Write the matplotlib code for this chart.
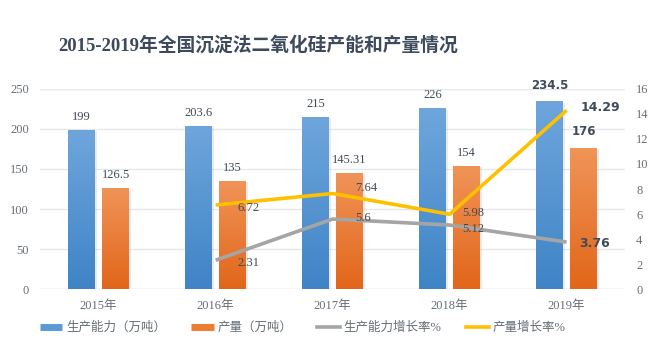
import numpy as np
import matplotlib
matplotlib.use("Agg")
import matplotlib.pyplot as plt
from matplotlib.lines import Line2D
import matplotlib.patheffects as pe

years = ["2015年", "2016年", "2017年", "2018年", "2019年"]
capacity = [199, 203.6, 215, 226, 234.5]
output = [126.5, 135, 145.31, 154, 176]
cap_growth = [None, 2.31, 5.6, 5.12, 3.76]
out_growth = [None, 6.72, 7.64, 5.98, 14.29]
cap_labels = ["199", "203.6", "215", "226", "234.5"]
out_labels = ["126.5", "135", "145.31", "154", "176"]
legend_labels = ["生产能力（万吨）", "产量（万吨）", "生产能力增长率%", "产量增长率%"]

SERIF = ["Liberation Serif", "Noto Sans CJK SC"]
SANS = ["DejaVu Sans", "Noto Sans CJK SC"]
TXT = "#404a58"
TICK = "#666e78"

fig = plt.figure(figsize=(6.58, 3.5), dpi=100)
ax1 = fig.add_axes([0.061, 0.174, 0.889, 0.572])
ax2 = ax1.twinx()

x = np.arange(len(years))
w = 0.23
off = 0.145


def grad_bars(ax, xs, hs, top, bottom):
    bars = ax.bar(xs, hs, w, color=bottom, zorder=2,
                  path_effects=[pe.SimplePatchShadow(offset=(1.5, -1), shadow_rgbFace="#b0b0b0", alpha=0.25),
                                pe.Normal()])
    grad = np.linspace(0, 1, 64).reshape(-1, 1)
    cmap = matplotlib.colors.LinearSegmentedColormap.from_list("g", [bottom, top])
    for b in bars:
        x0, y0 = b.get_x(), b.get_y()
        im = ax.imshow(grad, cmap=cmap, aspect="auto", origin="lower", zorder=2.5,
                       extent=[x0, x0 + b.get_width(), y0, y0 + b.get_height()])
        im.set_clip_path(b)
    return bars


grad_bars(ax1, x - off, capacity, "#6ea6dc", "#3f84c6")
grad_bars(ax1, x + off, output, "#f09458", "#e2661a")

ax1.set_xlim(-0.5, 4.5)
ax1.set_ylim(0, 250)
ax1.set_yticks(range(0, 251, 50))
ax1.grid(axis="y", color="#e3e7ec", lw=0.9, zorder=0)
ax1.set_axisbelow(True)
for s in ax1.spines.values():
    s.set_visible(False)
ax1.axhline(0, color="#dde1e6", lw=1, zorder=1)
ax1.tick_params(length=0, pad=8, labelsize=9, colors=TICK)
ax1.set_xticks(x)
ax1.set_xticklabels(years, family=SERIF)
for t in ax1.get_yticklabels():
    t.set_family(SERIF)

for i in range(len(years)):
    bold = i == len(years) - 1
    kw = dict(family=SANS, fontweight="bold", fontsize=8.5) if bold else dict(family=SERIF, fontsize=9)
    ax1.annotate(cap_labels[i], (x[i] - off, capacity[i]), xytext=(0, 5 if not bold else 7),
                 textcoords="offset points", ha="center", va="bottom", color=TXT, **kw)
    ax1.annotate(out_labels[i], (x[i] + off, output[i]), xytext=(0, 5 if not bold else 7),
                 textcoords="offset points", ha="center", va="bottom", color=TXT, **kw)

xl = x[1:]
ax2.plot(xl, cap_growth[1:], color="#a5a5a5", lw=2.6, zorder=3, solid_capstyle="butt")
ax2.plot(xl, out_growth[1:], color="#ffc000", lw=2.6, zorder=4, solid_capstyle="butt")
ax2.set_ylim(0, 16)
ax2.set_yticks(range(0, 17, 2))
for s in ax2.spines.values():
    s.set_visible(False)
ax2.tick_params(length=0, pad=8, labelsize=9, colors=TICK)
for t in ax2.get_yticklabels():
    t.set_family(SERIF)

# line value labels (offsets in points)
cap_off = [None, (16, -2), (16, 1), (9, -3), (9, -1)]
out_off = [None, (16, -2), (16, 4), (9, 1), (10, 2)]
for i in range(1, len(years)):
    bold = i == len(years) - 1
    kw = dict(family=SANS, fontweight="bold", fontsize=9) if bold else dict(family=SERIF, fontsize=9)
    ax2.annotate(f"{cap_growth[i]:g}", (x[i], cap_growth[i]), xytext=cap_off[i],
                 textcoords="offset points", ha="left", va="center", color=TXT, zorder=5, **kw)
    ax2.annotate(f"{out_growth[i]:g}", (x[i], out_growth[i]), xytext=out_off[i],
                 textcoords="offset points", ha="left", va="center", color=TXT, zorder=5, **kw)

fig.text(0.393, 0.872, "2015-2019年全国沉淀法二氧化硅产能和产量情况", ha="center", va="center",
         fontsize=13.5, fontweight="bold", color="#3d4a5c", family=SERIF)

handles = [Line2D([], [], color="#5b9bd5", lw=5, solid_capstyle="butt"),
           Line2D([], [], color="#ed7d31", lw=5, solid_capstyle="butt"),
           Line2D([], [], color="#a5a5a5", lw=2.6),
           Line2D([], [], color="#ffc000", lw=2.6)]
leg = fig.legend(handles, legend_labels, loc="center", bbox_to_anchor=(0.46, 0.063), ncol=4,
                 frameon=False, handlelength=1.8, handletextpad=0.3, columnspacing=2.0,
                 prop={"family": SERIF, "size": 9})
for t in leg.get_texts():
    t.set_color(TICK)

fig.savefig("out.png", dpi=100)
